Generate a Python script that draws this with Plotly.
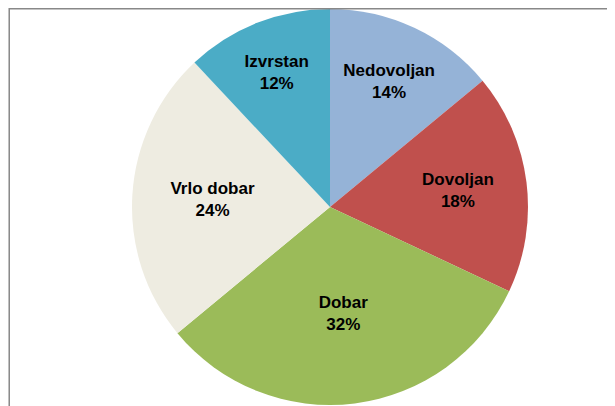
import plotly.graph_objects as go

labels = ["Nedovoljan", "Dovoljan", "Dobar", "Vrlo dobar", "Izvrstan"]
values = [14, 18, 32, 24, 12]
colors = ["#95B3D7", "#C0504D", "#9BBB59", "#EEECE1", "#4BACC6"]

fig = go.Figure(go.Pie(
    labels=labels, values=values, sort=False, direction="clockwise", rotation=0,
    marker=dict(colors=colors),
    texttemplate="<b>%{label}</b><br><b>%{percent:.0%}</b>", textposition="inside",
    insidetextorientation="horizontal",
    textfont=dict(family="Liberation Sans", size=17, color="black"),
    domain=dict(x=[124/615, 520/615], y=[0.02, 1.0]),
))
fig.update_layout(
    width=615, height=406, margin=dict(l=0, r=0, t=0, b=0),
    showlegend=False, paper_bgcolor="white",
    shapes=[dict(type="rect", xref="paper", yref="paper", x0=0.002, x1=0.99, y0=0.012, y1=0.998,
                 line=dict(color="#888888", width=1.5))],
)
fig.write_html("out.html")
